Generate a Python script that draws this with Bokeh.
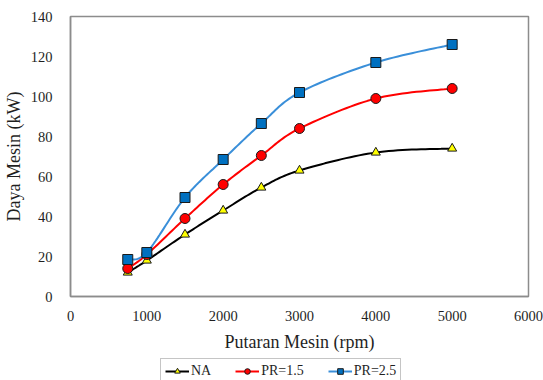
import numpy as np
from bokeh.plotting import figure
from bokeh.layouts import column
from bokeh.models import Range1d, FixedTicker, Legend, LegendItem
from bokeh.embed import file_html
from bokeh.resources import INLINE

rpm = [750, 1000, 1500, 2000, 2500, 3000, 4000, 5000]
na = [12, 18, 31, 43, 54.5, 63, 72, 74]
pr15 = [14, 21, 39, 56, 70.5, 84, 99, 104]
pr25 = [18.5, 22, 49.5, 68.5, 86.5, 102, 117, 126]

x_ticks = [0, 1000, 2000, 3000, 4000, 5000, 6000]
y_ticks = [0, 20, 40, 60, 80, 100, 120, 140]


def smooth(xs, ys, n=20):
    # Catmull-Rom style smoothing (like Excel's smoothed line) through the data points
    xs = np.asarray(xs, float)
    ys = np.asarray(ys, float)
    px, py = [], []
    m = len(xs)
    for i in range(m - 1):
        x0, y0 = (xs[i - 1], ys[i - 1]) if i > 0 else (xs[i], ys[i])
        x1, y1 = xs[i], ys[i]
        x2, y2 = xs[i + 1], ys[i + 1]
        x3, y3 = (xs[i + 2], ys[i + 2]) if i + 2 < m else (xs[i + 1], ys[i + 1])
        c1x, c1y = x1 + (x2 - x0) / 6, y1 + (y2 - y0) / 6
        c2x, c2y = x2 - (x3 - x1) / 6, y2 - (y3 - y1) / 6
        t = np.linspace(0, 1, n)
        bx = (1 - t) ** 3 * x1 + 3 * (1 - t) ** 2 * t * c1x + 3 * (1 - t) * t ** 2 * c2x + t ** 3 * x2
        by = (1 - t) ** 3 * y1 + 3 * (1 - t) ** 2 * t * c1y + 3 * (1 - t) * t ** 2 * c2y + t ** 3 * y2
        px.extend(bx.tolist())
        py.extend(by.tolist())
    return px, py


p = figure(frame_width=458, frame_height=280, output_backend="svg", toolbar_location=None,
           x_range=Range1d(0, 6000), y_range=Range1d(0, 140),
           min_border_left=68, min_border_right=17, min_border_top=16, min_border_bottom=62)

p.xgrid.visible = False
p.ygrid.visible = False
p.outline_line_color = "#8c8c8c"
p.outline_line_width = 1.5

font = "Liberation Serif"
for ax in (p.xaxis[0], p.yaxis[0]):
    ax.major_tick_line_color = None
    ax.minor_tick_line_color = None
    ax.axis_line_color = "#8c8c8c"
    ax.axis_line_width = 1.5
    ax.major_label_text_font = font
    ax.major_label_text_font_size = "14.5px"
    ax.major_label_text_color = "#1f1f1f"
    ax.axis_label_text_font = font
    ax.axis_label_text_font_size = "18px"
    ax.axis_label_text_font_style = "normal"
    ax.axis_label_text_color = "#1f1f1f"

p.xaxis.ticker = FixedTicker(ticks=x_ticks)
p.yaxis.ticker = FixedTicker(ticks=y_ticks)
p.xaxis.axis_label = "Putaran Mesin (rpm)"
p.yaxis.axis_label = "Daya Mesin (kW)"
p.xaxis.major_label_standoff = 8
p.yaxis.major_label_standoff = 12
p.xaxis.axis_label_standoff = 8
p.yaxis.axis_label_standoff = 4

series = [
    ("NA", na, "black", "triangle", "#ffff00", 9),
    ("PR=1.5", pr15, "#ff0000", "circle", "#ff0000", 10),
    ("PR=2.5", pr25, "#3a8fd9", "square", "#0070c0", 10),
]

# legend strip below the chart (its renderers lie outside its own ranges, so only the legend shows)
lg = figure(width=543, height=22, output_backend="svg", toolbar_location=None,
            x_range=Range1d(0, 1), y_range=Range1d(0, 1),
            x_axis_type=None, y_axis_type=None,
            min_border_left=0, min_border_right=0, min_border_top=0, min_border_bottom=0)
lg.xgrid.visible = False
lg.ygrid.visible = False
lg.outline_line_color = None

items = []
for name, ys, lc, mk, fc, sz in series:
    sx, sy = smooth(rpm, ys)
    p.line(sx, sy, line_color=lc, line_width=2)
    p.scatter(rpm, ys, marker=mk, size=sz, fill_color=fc, line_color="#1a1a1a", line_width=1)
    l1 = lg.line(rpm, ys, line_color=lc, line_width=2)
    l2 = lg.scatter(rpm, ys, marker=mk, size=sz, fill_color=fc, line_color="#1a1a1a", line_width=1)
    items.append(LegendItem(label=name, renderers=[l1, l2]))

legend = Legend(items=items, orientation="horizontal", location=(90, -4),
                label_text_font=font, label_text_font_size="14px", label_text_color="#1f1f1f",
                border_line_color="#8c8c8c", border_line_width=1.5,
                glyph_width=24, glyph_height=14, label_height=16, label_standoff=2, spacing=24,
                padding=4, margin=0, background_fill_alpha=1)
lg.add_layout(legend, "center")

layout = column(p, lg, spacing=0)

open("out.html", "w").write(file_html(layout, INLINE))
